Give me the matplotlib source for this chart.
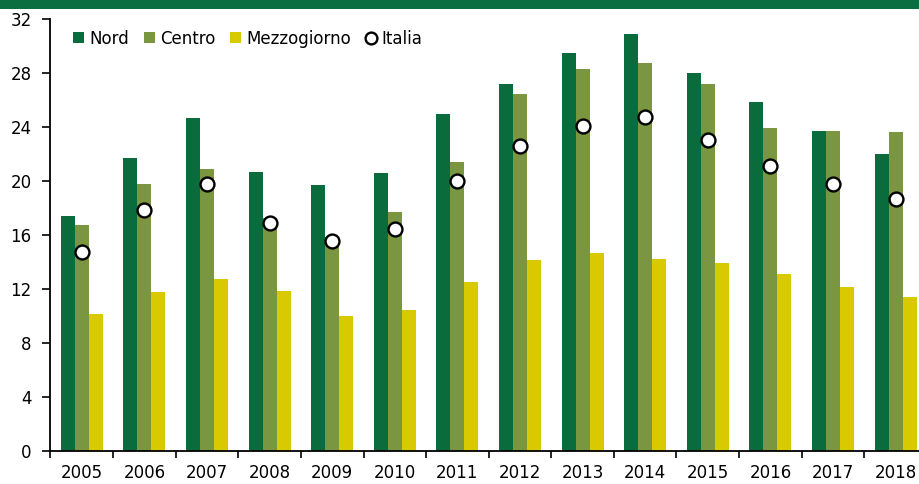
import numpy as np
import matplotlib.pyplot as plt
from matplotlib.patches import Rectangle

plt.rcParams['font.family'] = ['DejaVu Sans']

anni = ['2005', '2006', '2007', '2008', '2009', '2010', '2011',
        '2012', '2013', '2014', '2015', '2016', '2017', '2018']
nord = [17.4, 21.7, 24.7, 20.7, 19.75, 20.6, 25.0, 27.2, 29.5, 30.9, 28.05, 25.85, 23.7, 22.05]
centro = [16.8, 19.8, 20.9, 17.3, 15.9, 17.7, 21.4, 26.5, 28.3, 28.8, 27.2, 23.95, 23.7, 23.65]
mezzogiorno = [10.15, 11.8, 12.75, 11.85, 10.0, 10.45, 12.55, 14.2, 14.7, 14.25, 13.95, 13.15, 12.2, 11.4]
italia = [14.75, 17.85, 19.8, 16.9, 15.6, 16.5, 20.0, 22.6, 24.1, 24.75, 23.05, 21.1, 19.8, 18.7]

c_nord = '#0a6b3d'
c_centro = '#7a9640'
c_mezz = '#d8c900'

fig = plt.figure(figsize=(9.2, 4.84), dpi=100)
# banda verde in alto
fig.add_artist(Rectangle((0, 1 - 9 / 484), 1, 9 / 484, transform=fig.transFigure,
                         facecolor='#0b6e41', edgecolor='none'))

ax = fig.add_axes([50.5 / 920, 32.7 / 484, 876.4 / 920, 432 / 484])

x = np.arange(len(anni))
w = 0.2236
b1 = ax.bar(x - w, nord, w, color=c_nord, label='Nord', zorder=2)
b2 = ax.bar(x, centro, w, color=c_centro, label='Centro', zorder=2)
b3 = ax.bar(x + w, mezzogiorno, w, color=c_mezz, label='Mezzogiorno', zorder=2)
l1, = ax.plot(x, italia, 'o', ms=10, mfc='white', mec='black', mew=1.7,
              label='Italia', zorder=3)

ax.set_ylim(0, 32)
ax.set_yticks(np.arange(0, 33, 4))
ax.set_xlim(-0.5, len(anni) - 0.5)
ax.set_xticks(x)
ax.set_xticklabels(anni)
ax.set_xticks(np.arange(-0.5, len(anni)), minor=True)
ax.tick_params(axis='x', which='major', length=0, pad=9, labelsize=12)
ax.tick_params(axis='x', which='minor', length=5, width=1.2, direction='out')
ax.tick_params(axis='y', length=5.5, width=1.2, pad=8, labelsize=12)

for s in ['top', 'right']:
    ax.spines[s].set_visible(False)
for s in ['left', 'bottom']:
    ax.spines[s].set_linewidth(1.3)

ax.legend([b1, b2, b3, l1], ['Nord', 'Centro', 'Mezzogiorno', 'Italia'],
          loc='upper left', bbox_to_anchor=(0.009, 1.011), ncol=4, frameon=False,
          fontsize=12, handlelength=0.65, handleheight=0.65, handletextpad=0.3,
          columnspacing=0.9, markerscale=0.85)

fig.savefig('out.png', dpi=100)
